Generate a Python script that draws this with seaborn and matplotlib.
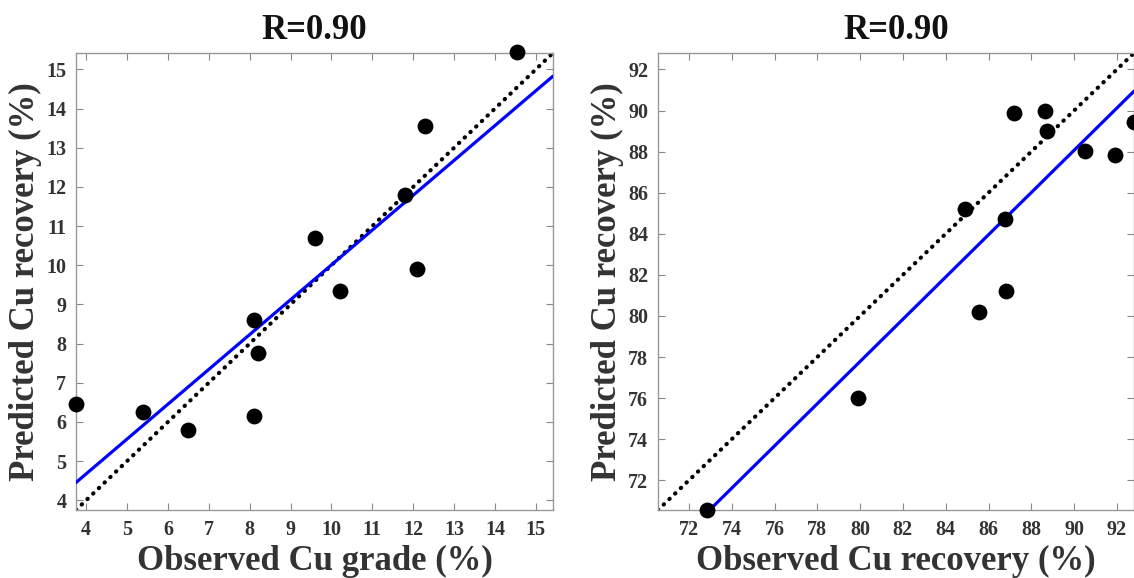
import numpy as np
import matplotlib
matplotlib.use("Agg")
import matplotlib.pyplot as plt
import seaborn as sns

# values
grade_observed = [3.75, 5.4, 6.5, 8.1, 8.1, 8.2, 9.6, 10.2, 11.8, 12.1, 12.3, 14.55]
grade_predicted = [6.45, 6.25, 5.8, 6.15, 8.6, 7.75, 10.7, 9.35, 11.8, 9.9, 13.55, 15.45]
grade_ticks = list(range(4, 16))

recovery_observed = [72.85, 79.9, 85.55, 86.8, 84.9, 86.75, 87.2, 88.65, 88.75, 90.5, 91.9, 92.8]
recovery_predicted = [70.55, 76.0, 80.2, 81.2, 85.2, 84.7, 89.9, 90.0, 89.0, 88.05, 87.85, 89.45]
recovery_ticks = list(range(72, 93, 2))

titles = ["R=0.90", "R=0.90"]
x_labels = ["Observed Cu grade (%)", "Observed Cu recovery (%)"]
y_label = "Predicted Cu recovery (%)"

sns.set_theme(style="ticks")
plt.rcParams["font.family"] = ["Liberation Serif", "DejaVu Serif"]
plt.rcParams["font.weight"] = "bold"

fig = plt.figure(figsize=(11.34, 5.78), dpi=100)
ax1 = fig.add_axes([0.067, 0.1176, 0.4206, 0.7907])
ax2 = fig.add_axes([0.5802, 0.1176, 0.4198, 0.7907])

panels = [
    (ax1, grade_observed, grade_predicted, grade_ticks, (3.75, 15.42)),
    (ax2, recovery_observed, recovery_predicted, recovery_ticks, (70.55, 92.8)),
]

for i, (ax, obs, pred, ticks, lims) in enumerate(panels):
    ax.set_xlim(lims)
    ax.set_ylim(lims)
    # 1:1 line
    ax.axline((lims[0], lims[0]), slope=1, color="black", lw=3.0,
              linestyle=(0, (0.1, 1.8)), dash_capstyle="round", zorder=2)
    sns.regplot(x=obs, y=pred, ax=ax, ci=None, truncate=False,
                scatter_kws=dict(s=130, color="black", linewidths=0, alpha=1,
                                 zorder=4, clip_on=False),
                line_kws=dict(color="#0000ff", lw=2.3, zorder=3))
    ax.set_xlim(lims)
    ax.set_ylim(lims)
    ax.set_xticks(ticks)
    ax.set_yticks(ticks)
    ax.tick_params(direction="in", length=5, width=0.8, color="#888888",
                   top=True, right=True, labelsize=14.5, labelcolor="#333333", pad=7)
    for lab in ax.get_xticklabels() + ax.get_yticklabels():
        lab.set_fontweight("bold")
    for sp in ax.spines.values():
        sp.set_color("#999999")
        sp.set_linewidth(1.0)
    ax.set_title(titles[i], fontsize=25, fontweight="bold", pad=10, color="#111111")
    ax.set_xlabel(x_labels[i], fontsize=25, fontweight="bold", color="#333333", labelpad=4)
    ax.set_ylabel(y_label, fontsize=25, fontweight="bold", color="#333333", labelpad=3)

fig.savefig("out.png", dpi=100)
